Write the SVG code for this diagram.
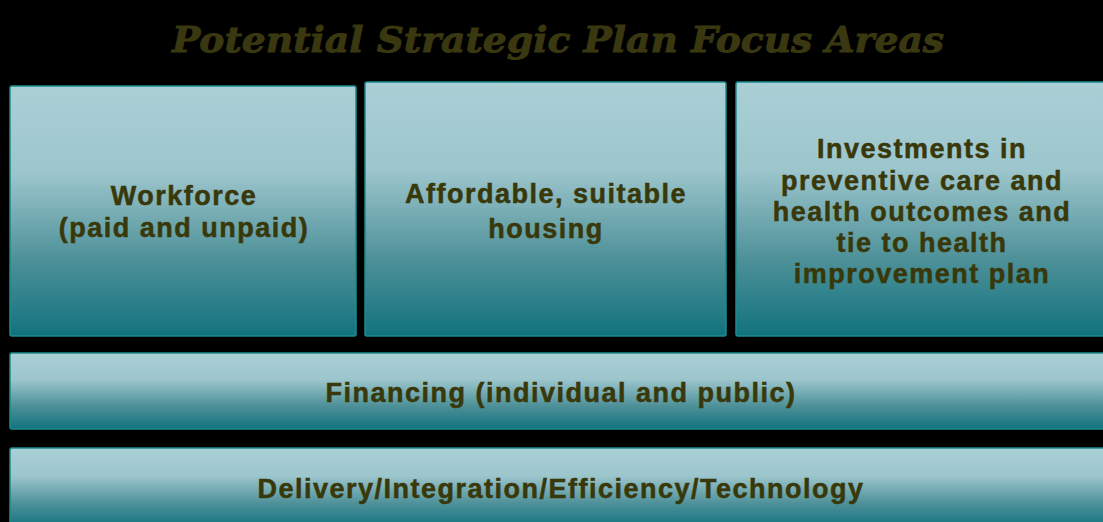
<svg xmlns="http://www.w3.org/2000/svg" width="1103" height="522" viewBox="0 0 1103 522">
  <defs>
    <linearGradient id="tile" x1="0" y1="0" x2="0" y2="1">
      <stop offset="0" stop-color="#aad0d6"/>
      <stop offset="0.35" stop-color="#9cc5cc"/>
      <stop offset="0.7" stop-color="#4d9098"/>
      <stop offset="1" stop-color="#11737e"/>
    </linearGradient>
    <style>
      .tile { fill: url(#tile); stroke: #1c8c8e; stroke-width: 1.5; }
      .lbl { font-family: "Liberation Sans", Arial, sans-serif; font-weight: bold; font-size: 27px; fill: #38380a; stroke: #38380a; stroke-width: 0.5px; text-anchor: middle; letter-spacing: 1.5px; }
      .title { font-family: "DejaVu Serif", "Liberation Serif", serif; font-weight: bold; font-style: italic; font-size: 36px; fill: #3a3810; stroke: #3a3810; stroke-width: 0.9px; text-anchor: middle; }
    </style>
  </defs>

  <rect width="1103" height="522" fill="#000"/>

  <text class="title" x="558" y="52" textLength="772" lengthAdjust="spacingAndGlyphs">Potential Strategic Plan Focus Areas</text>

  <g id="workforce">
    <rect class="tile" x="10" y="86" width="346" height="250" rx="2"/>
    <text class="lbl" x="184" y="205">Workforce</text>
    <text class="lbl" x="184" y="237">(paid and unpaid)</text>
  </g>

  <g id="housing">
    <rect class="tile" x="365" y="82" width="361" height="254" rx="2"/>
    <text class="lbl" x="546" y="203">Affordable, suitable</text>
    <text class="lbl" x="546" y="238">housing</text>
  </g>

  <g id="prevention">
    <rect class="tile" x="736" y="82" width="370" height="254" rx="2"/>
    <text class="lbl" x="922" y="158">Investments in</text>
    <text class="lbl" x="922" y="190">preventive care and</text>
    <text class="lbl" x="922" y="221">health outcomes and</text>
    <text class="lbl" x="922" y="252">tie to health</text>
    <text class="lbl" x="922" y="283">improvement plan</text>
  </g>

  <g id="financing">
    <rect class="tile" x="10" y="353" width="1096" height="76" rx="2"/>
    <text class="lbl" x="561" y="402">Financing (individual and public)</text>
  </g>

  <g id="delivery">
    <rect class="tile" x="10" y="448" width="1096" height="80" rx="2"/>
    <text class="lbl" x="561" y="498">Delivery/Integration/Efficiency/Technology</text>
  </g>

  <g id="connectors"/>
</svg>
